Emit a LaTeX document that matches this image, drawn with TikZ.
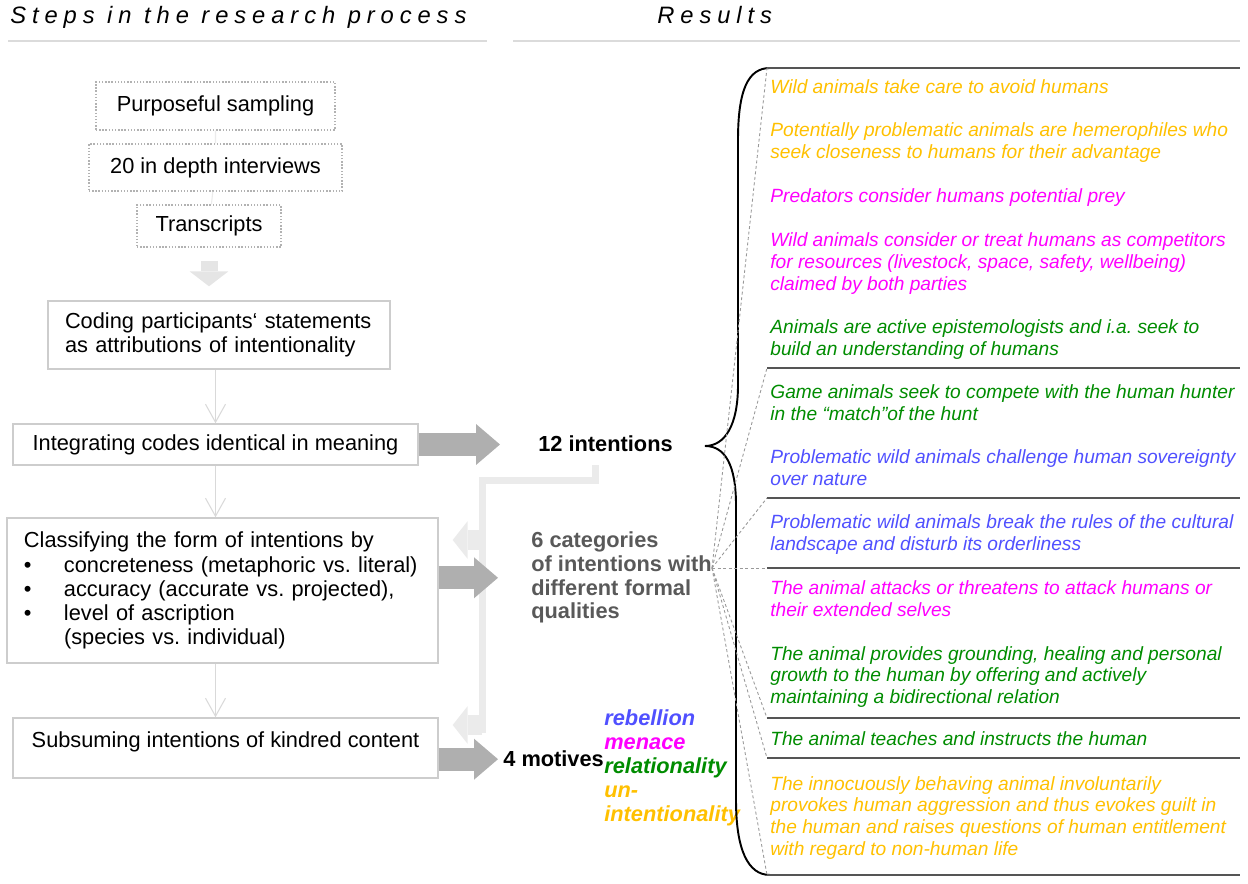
\documentclass[tikz,border=0pt]{standalone}
\usepackage{fontspec}
\setmainfont{Liberation Sans}
\newfontfamily\spacedfont[LetterSpace=25]{Liberation Sans}
\usetikzlibrary{arrows.meta,positioning}
\newlength\pxu
\setlength\pxu{0.02cm}
\frenchspacing
\definecolor{arrowgray}{RGB}{175,175,175}
\definecolor{fbgray}{RGB}{235,235,235}
\definecolor{boxgray}{RGB}{205,205,205}
\definecolor{rulegray}{RGB}{85,85,85}
\definecolor{catgray}{RGB}{89,89,89}
\definecolor{yel}{RGB}{255,192,0}
\definecolor{mag}{RGB}{255,0,255}
\definecolor{grn}{RGB}{0,140,0}
\definecolor{blu}{RGB}{80,80,255}
\newcommand\boxfont{\fontsize{12.4}{13.5}\selectfont}
\newcommand\resfont{\fontsize{10.9}{12.35}\selectfont\itshape}
\newcommand\labfont{\fontsize{12.4}{13.6}\selectfont\bfseries}
\tikzset{
  stepbox/.style={draw=boxgray,line width=0.8pt,inner xsep=17\pxu,inner ysep=0pt,font=\boxfont},
  dotbox/.style={stepbox,densely dotted,draw=black!30},
  result/.style={anchor=base west,inner sep=0pt,align=left,font=\resfont},
  label/.style={anchor=base west,inner sep=0pt,align=left,font=\labfont},
  bigarrow/.style={draw=arrowgray,line width=0.46cm,-{Triangle[length=0.48cm,width=0.82cm,line width=0pt]}},
  fbarrow/.style={draw=fbgray,line width=0.4cm,-{Triangle[length=0.3cm,width=0.76cm,line width=0pt]}},
  thinarrow/.style={draw=black!15,line width=0.6pt,-{Straight Barb[length=0.36cm,width=0.4cm]}},
  fandash/.style={draw=black!40,line width=0.5pt,dash pattern=on 3\pxu off 2.5\pxu},
  sepline/.style={draw=rulegray,line width=1.4pt}
}
\begin{document}
\begin{tikzpicture}[x=0.02cm,y=-0.02cm]
\useasboundingbox (0,0) rectangle (1248,884);

% headings
\node[anchor=base west,inner sep=0pt,font=\spacedfont\fontsize{13.5}{15}\selectfont\itshape] (stepstitle) at (10,24) {Steps in the research process};
\node[anchor=base west,inner sep=0pt,font=\spacedfont\fontsize{13.5}{15}\selectfont\itshape] (restitle) at (657,24) {Results};
\draw[black!14,line width=1.1pt] (8,41) -- (487,41) (513,41) -- (1240,41);

% research steps
\node[dotbox,minimum width=239\pxu,minimum height=48\pxu] (samp) at (215.5,106) {Purposeful sampling};
\node[dotbox,minimum width=253\pxu,minimum height=47\pxu] (intv) at (215.5,167.5) {20 in depth interviews};
\node[dotbox,minimum width=144\pxu,minimum height=42\pxu] (trans) at (209,226) {Transcripts};
\node[stepbox,text width=308\pxu,align=left,minimum height=68\pxu] (coding) at (219,335)
  {Coding participants‘ statements\\as attributions of intentionality};
\node[stepbox,minimum width=405\pxu,minimum height=41\pxu] (integ) at (215.5,444.5) {Integrating codes identical in meaning};
\node[stepbox,text width=397\pxu,align=left,minimum height=145\pxu,font=\fontsize{12.4}{13.7}\selectfont] (classif) at (222.5,590.5)
  {Classifying the form of intentions by\\
   \makebox[40\pxu][l]{\textbullet}concreteness (metaphoric vs. literal)\\
   \makebox[40\pxu][l]{\textbullet}accuracy (accurate vs. projected),\\
   \makebox[40\pxu][l]{\textbullet}level of ascription\\
   \hspace*{40\pxu}(species vs. individual)};
\node[stepbox,minimum width=425\pxu,minimum height=60\pxu,text height=9pt,text depth=9pt] (subsum) at (225.5,748) {Subsuming intentions of kindred content};

\draw[black!8,line width=0.6pt] (samp) -- (intv) (intv) -- (trans);
\draw[draw=black!10,line width=17\pxu,-{Triangle[length=0.3cm,width=0.78cm,line width=0pt]},shorten <=13\pxu,shorten >=14\pxu]
  (trans.south) -- (trans.south |- coding.north);
\draw[thinarrow] (coding.south -| integ.north) -- (integ.north);
\draw[thinarrow] (integ.south) -- (integ.south |- classif.north);
\draw[thinarrow] (integ.south |- classif.south) -- (integ.south |- subsum.north);

% results of the steps
\node[label] (twelve) at (538,452) {12 intentions};
\node[label,text=catgray,font=\fontsize{12.4}{13.5}\selectfont\bfseries] (cats) at (531,619)
  {6 categories\\of intentions with\\different formal\\qualities};
\node[label] (fourm) at (503,767) {4 motives};
\node[label,font=\fontsize{12.4}{13.8}\selectfont\bfseries\itshape] (motwords) at (604,822)
  {\textcolor{blu}{rebellion}\\\textcolor{mag}{menace}\\\textcolor{grn}{relationality}\\\textcolor{yel}{un-}\\\textcolor{yel}{intentionality}};

% feedback path
\coordinate (fbtop) at (595,465);
\coordinate (fbturn) at (595,481);
\coordinate (fbend) at (482,733);
\coordinate (fbone) at (482,540);
\coordinate (fbtwo) at (482,725);
\draw[fbgray,line width=7\pxu] (fbtop) -- (fbturn) -| (fbend);
\draw[fbarrow,shorten >=14\pxu] (fbone) -- (fbone -| classif.east);
\draw[fbarrow,shorten >=14\pxu] (fbtwo) -- (fbtwo -| subsum.east);

\draw[bigarrow,shorten >=38\pxu] (integ.east) -- (integ.east -| twelve.west);
\draw[bigarrow,shorten >=33\pxu] (classif.east |- cats.west) -- (cats.west);
\draw[bigarrow,shorten >=5\pxu] (subsum.east |- fourm.west) -- (fourm.west);

% brace
\draw[line width=1.1pt] (770,68) .. controls (748,68) and (738,90) .. (738,140)
  -- (738,385) .. controls (738,425) and (725,446) .. (705,446)
  .. controls (725,446) and (736,465) .. (736,505)
  -- (736,800) .. controls (736,850) and (748,875) .. (770,875);

% category separators and fan
\coordinate (fan) at (712,568);
\foreach \y [count=\i] in {68,368,498,568,718,758,875} {
  \coordinate (sep\i) at (767,\y);
  \draw[sepline] (sep\i) -- ++(473,0);
  \draw[fandash] (fan) -- (sep\i);
}

% intentions (anchored at the baseline of the last line)
\node[result,text=yel] (r1) at (770,94) {Wild animals take care to avoid humans};
\node[result,text=yel] (r2) at (770,158.7) {Potentially problematic animals are hemerophiles who\\seek closeness to humans for their advantage};
\node[result,text=mag] (r3) at (770,203) {Predators consider humans potential prey};
\node[result,text=mag] (r4) at (770,290.4) {Wild animals consider or treat humans as competitors\\for resources (livestock, space, safety, wellbeing)\\claimed by both parties};
\node[result,text=grn] (r5) at (770,355.7) {Animals are active epistemologists and i.a. seek to\\build an understanding of humans};
\node[result,text=grn] (r6) at (770,420.7) {Game animals seek to compete with the human hunter\\in the “match”of the hunt};
\node[result,text=blu] (r7) at (770,485.7) {Problematic wild animals challenge human sovereignty\\over nature};
\node[result,text=blu] (r8) at (770,550.7) {Problematic wild animals break the rules of the cultural\\landscape and disturb its orderliness};
\node[result,text=mag] (r9) at (770,616.7) {The animal attacks or threatens to attack humans or\\their extended selves};
\node[result,text=grn] (r10) at (770,703.4) {The animal provides grounding, healing and personal\\growth to the human by offering and actively\\maintaining a bidirectional relation};
\node[result,text=grn] (r11) at (770,746) {The animal teaches and instructs the human};
\node[result,text=yel] (r12) at (770,855.1) {The innocuously behaving animal involuntarily\\provokes human aggression and thus evokes guilt in\\the human and raises questions of human entitlement\\with regard to non-human life};
\end{tikzpicture}
\end{document}
